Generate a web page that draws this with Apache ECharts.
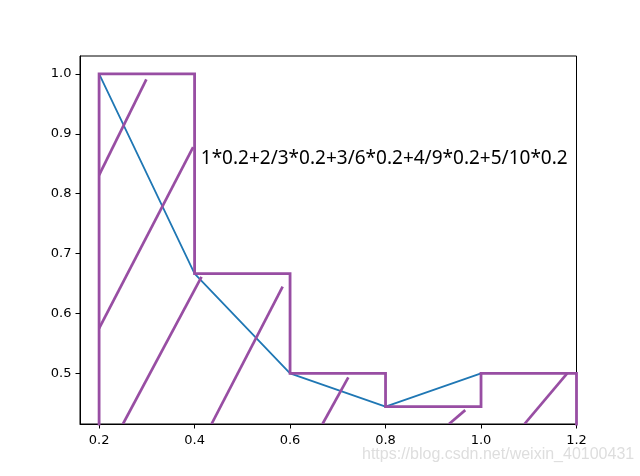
<!DOCTYPE html>
<html>
<head>
<meta charset="utf-8">
<script src="https://cdn.jsdelivr.net/npm/echarts@6/dist/echarts.min.js"></script>
<style>html,body{margin:0;padding:0;background:#fff}#c{width:640px;height:476px}</style>
</head>
<body>
<div id="c"></div>
<script>
// ---- data ----
const lineX = [0.2, 0.4, 0.6, 0.8, 1.0];
const lineY = [1.0, 0.6667, 0.5, 0.4444, 0.5];
const binEdges = [0.2, 0.4, 0.6, 0.8, 1.0, 1.2];
const binHeights = [1.0, 0.6667, 0.5, 0.4444, 0.5];
const baseline = 0;
// visible hatch strokes: [x1, y1, x2, y2] in data units
const hatchSegments = [
  [0.2, 0.831, 0.299, 0.991],
  [0.2, 0.575, 0.397, 0.878],
  [0.25, 0.4155, 0.4145, 0.661],
  [0.4355, 0.4155, 0.5845, 0.645],
  [0.668, 0.4155, 0.722, 0.4933],
  [0.933, 0.4155, 0.967, 0.4387],
  [1.091, 0.4155, 1.1805, 0.5]
];
const xTicks = [0.2, 0.4, 0.6, 0.8, 1.0, 1.2];
const xTickLabels = ['0.2', '0.4', '0.6', '0.8', '1.0', '1.2'];
const yTicks = [0.5, 0.6, 0.7, 0.8, 0.9, 1.0];
const yTickLabels = ['0.5', '0.6', '0.7', '0.8', '0.9', '1.0'];
const annotation = '1*0.2+2/3*0.2+3/6*0.2+4/9*0.2+5/10*0.2';
const annotationAt = [0.413, 0.858];
const watermark = 'https://blog.csdn.net/weixin_40100431';

// ---- build ----
const stepData = [[binEdges[0], baseline]];
binHeights.forEach((h, i) => stepData.push([binEdges[i], h]));
stepData.push([binEdges[binEdges.length - 1], binHeights[binHeights.length - 1]]);
stepData.push([binEdges[binEdges.length - 1], baseline]);

const purple = '#984ea3';
const chart = echarts.init(document.getElementById('c'), null, {renderer: 'canvas'});
function fmt(ticks, labels) {
  return v => {
    for (let i = 0; i < ticks.length; i++) if (Math.abs(ticks[i] - v) < 1e-6) return labels[i];
    return '';
  };
}
chart.setOption({
  animation: false,
  grid: {left: 80, right: 63.5, top: 56, bottom: 52, show: true, borderColor: '#000', borderWidth: 1, backgroundColor: 'transparent'},
  xAxis: {
    type: 'value', min: 0.16, max: 1.2,
    splitLine: {show: false},
    axisLine: {show: true, onZero: false, lineStyle: {color: '#000', width: 1}},
    axisTick: {show: true, length: 4.5, lineStyle: {color: '#000'}, customValues: xTicks},
    axisLabel: {color: '#000', fontFamily: 'DejaVu Sans', fontSize: 13, margin: 10, customValues: xTicks, formatter: fmt(xTicks, xTickLabels)}
  },
  yAxis: {
    type: 'value', min: 0.4155, max: 1.03,
    splitLine: {show: false},
    axisLine: {show: true, onZero: false, lineStyle: {color: '#000', width: 1}},
    axisTick: {show: true, length: 4.5, lineStyle: {color: '#000'}, customValues: yTicks},
    axisLabel: {color: '#000', fontFamily: 'DejaVu Sans', fontSize: 13, margin: 8.5, customValues: yTicks, formatter: fmt(yTicks, yTickLabels)}
  },
  series: [
    {
      type: 'line', data: lineX.map((x, i) => [x, lineY[i]]),
      symbol: 'none', z: 2,
      lineStyle: {color: '#1f77b4', width: 1.8}
    },
    {
      type: 'line', data: stepData, step: 'end',
      symbol: 'none', z: 3, clip: true,
      lineStyle: {color: purple, width: 2.8, join: 'miter'}
    },
    {
      type: 'custom', z: 3, clip: true,
      data: hatchSegments,
      encode: {x: [0, 2], y: [1, 3]},
      renderItem: (params, api) => {
        const p1 = api.coord([api.value(0), api.value(1)]);
        const p2 = api.coord([api.value(2), api.value(3)]);
        return {type: 'line', shape: {x1: p1[0], y1: p1[1], x2: p2[0], y2: p2[1]},
          style: {stroke: purple, lineWidth: 2.7}};
      }
    },
    {
      type: 'custom', z: 4,
      data: [annotationAt],
      encode: {x: 0, y: 1},
      renderItem: (params, api) => {
        const p = api.coord([api.value(0), api.value(1)]);
        return {type: 'text', x: p[0], y: p[1],
          style: {text: annotation, fill: '#000', font: '19px "Noto Sans"', textAlign: 'left', textVerticalAlign: 'middle'}};
      }
    }
  ],
  graphic: [{
    type: 'text', left: 362, top: 447,
    style: {text: watermark, fill: '#dedede', font: '16px "Liberation Sans"'}
  }]
});
</script>
</body>
</html>
